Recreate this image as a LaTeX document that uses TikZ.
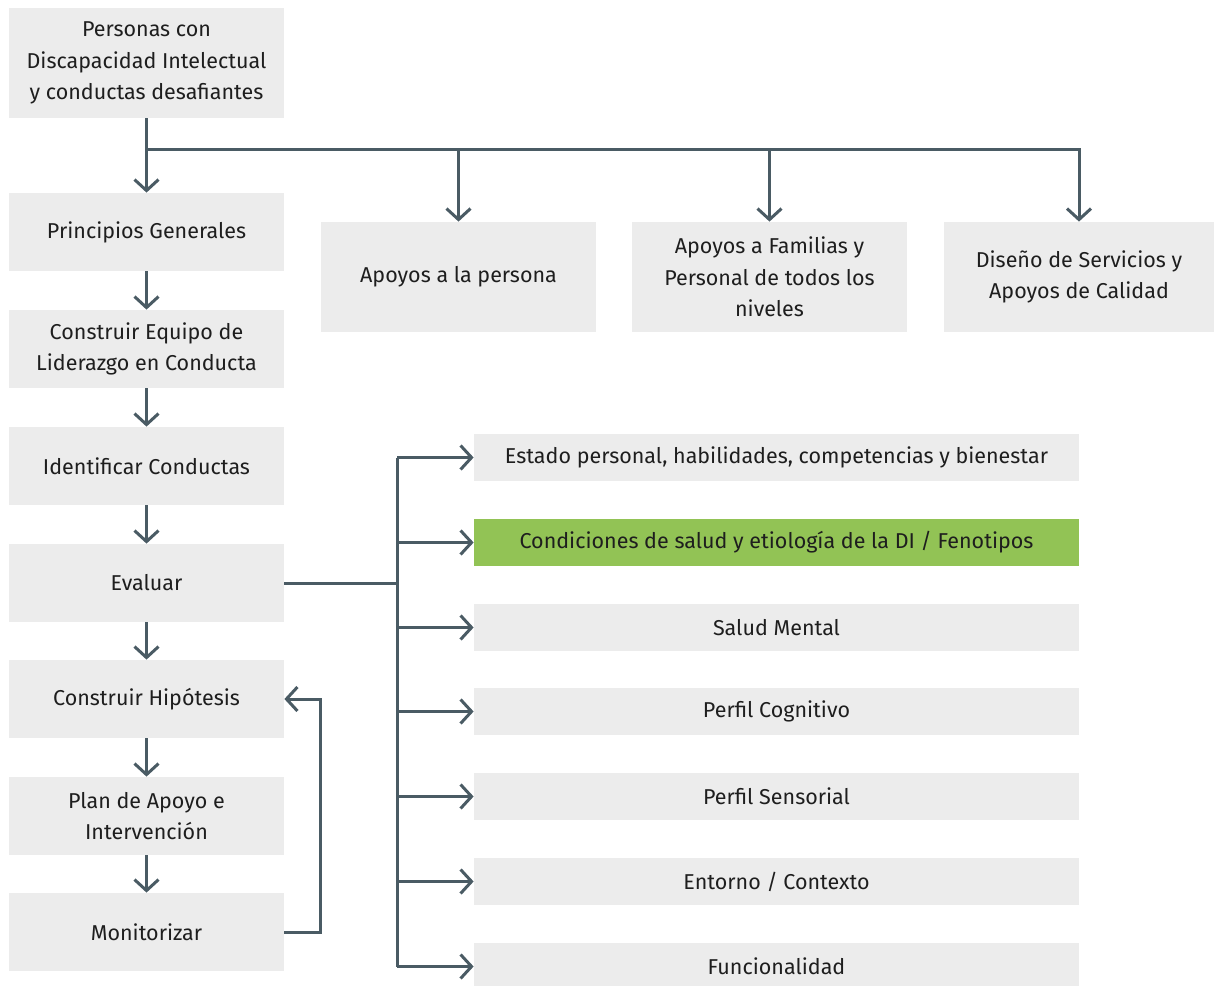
\documentclass[tikz,border=0pt]{standalone}
\usepackage{fontspec}
\setmainfont{Fira Sans}
\usetikzlibrary{arrows.meta}
\definecolor{boxgray}{HTML}{ECECEC}
\definecolor{leafgreen}{HTML}{92C355}
\definecolor{linegray}{HTML}{4A5B64}
\definecolor{txt}{HTML}{1E1E1E}
\begin{document}
\begin{tikzpicture}[x=0.5pt,y=-0.5pt,
  font=\fontsize{10.75pt}{15.75pt}\selectfont,
  box/.style={fill=boxgray,text=txt,inner sep=0pt,align=center,
    minimum width=137.5pt,minimum height=39pt,
    execute at begin node={\vspace*{2.5pt}}},
  tallbox/.style={box,minimum height=55pt},
  rowbox/.style={box,minimum width=302.5pt,minimum height=23.5pt},
  arr/.style={draw=linegray,line width=1.5pt,
    -{Straight Barb[length=5.5pt,width=12pt,line width=1.5pt]}},
  ln/.style={draw=linegray,line width=1.5pt}]
\useasboundingbox (0,0) rectangle (1214,985);

% main column
\node[tallbox] (top) at (146.5,63) {Personas con\\Discapacidad Intelectual\\y conductas desafiantes};
\node[box] (princ) at (146.5,232) {Principios Generales};
\node[box] (equipo) at (146.5,349) {Construir Equipo de\\Liderazgo en Conducta};
\node[box] (ident) at (146.5,466) {Identificar Conductas};
\node[box] (eval) at (146.5,583) {Evaluar};
\node[box] (hip) at (146.5,699) {Construir Hipótesis};
\node[box] (plan) at (146.5,816) {Plan de Apoyo e\\Intervención};
\node[box] (monit) at (146.5,932) {Monitorizar};

% upper branches
\node[tallbox] (persona) at (458.5,277) {Apoyos a la persona};
\node[tallbox] (familias) at (769.5,277) {Apoyos a Familias y\\Personal de todos los\\niveles};
\node[tallbox,minimum width=135pt] (diseno) at (1079,277) {Diseño de Servicios y\\Apoyos de Calidad};

% evaluation areas
\node[rowbox] (estado) at (776.5,457.5) {Estado personal, habilidades, competencias y bienestar};
\node[rowbox,fill=leafgreen] (salud) at (776.5,542.5) {Condiciones de salud y etiología de la DI / Fenotipos};
\node[rowbox] (mental) at (776.5,627.5) {Salud Mental};
\node[rowbox] (cogn) at (776.5,711.5) {Perfil Cognitivo};
\node[rowbox] (sens) at (776.5,796.5) {Perfil Sensorial};
\node[rowbox] (entorno) at (776.5,881.5) {Entorno / Contexto};
\node[rowbox] (func) at (776.5,966.5) {Funcionalidad};

% connectors
\coordinate (hub) at (146.5,149);
\coordinate (bus) at (397,583);
\coordinate (fb) at (320,0);

\draw[arr] (top.south) -- (princ.north);
\draw[ln] (hub) -- (hub -| diseno.north);
\draw[arr] (hub) -| (persona.north);
\draw[arr] (hub) -| (familias.north);
\draw[arr] (hub) -| (diseno.north);
\draw[arr] (princ.south) -- (equipo.north);
\draw[arr] (equipo.south) -- (ident.north);
\draw[arr] (ident.south) -- (eval.north);
\draw[arr] (eval.south) -- (hip.north);
\draw[arr] (hip.south) -- (plan.north);
\draw[arr] (plan.south) -- (monit.north);

\draw[ln] (eval.east) -- (bus);
\draw[ln] (bus |- estado.west) -- (bus |- func.west);
\foreach \n in {estado,salud,mental,cogn,sens,entorno,func}
  \draw[arr] (bus |- \n.west) -- (\n.west);

\draw[arr] (monit.east) -- (monit.east -| fb) -- (hip.east -| fb) -- (hip.east);
\end{tikzpicture}
\end{document}
